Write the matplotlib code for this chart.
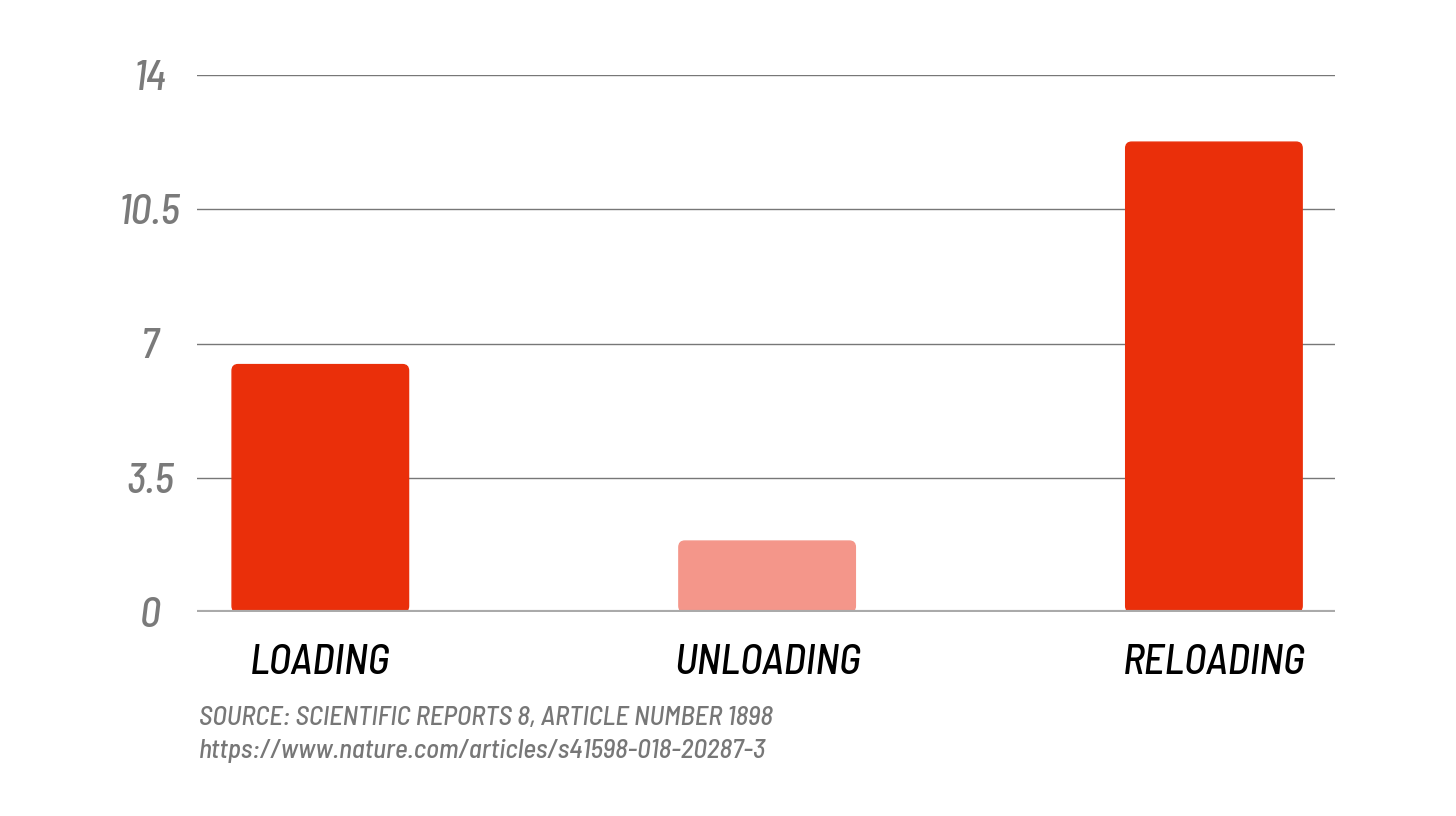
"""Bar chart: loading / unloading / reloading"""

import matplotlib.pyplot as plt
from matplotlib.patches import FancyBboxPatch

categories = ['LOADING', 'UNLOADING', 'RELOADING']
values = [6.45, 1.85, 12.25]
bar_colors = ['#ea2f0a', '#f4968a', '#ea2f0a']
yticks = [0, 3.5, 7, 10.5, 14]
ytick_labels = ['0', '3.5', '7', '10.5', '14']
source_lines = ['SOURCE: SCIENTIFIC REPORTS 8, ARTICLE NUMBER 1898',
                'https://www.nature.com/articles/s41598-018-20287-3']

cond = ['Barlow Semi Condensed', 'Barlow', 'DejaVu Sans']
plt.rcParams['font.family'] = cond

fig = plt.figure(figsize=(14.56, 8.16), dpi=100)
fig.set_facecolor('w')
ax = fig.add_axes([197 / 1456, 1 - 612 / 816, (1335 - 197) / 1456, (612 - 75) / 816])

xs = list(range(len(categories)))
bars = ax.bar(xs, values, width=0.395, color=bar_colors)
ax.set_xlim(-0.276, 2.271)
ax.set_ylim(0, 14)

# swap plain rectangles for rounded ones
rx, ry = 0.0135, 0.16
for b in bars:
    x, y = b.get_xy()
    w, h = b.get_width(), b.get_height()
    b.set_visible(False)
    p = FancyBboxPatch((x, y), w, h, boxstyle=f'round,pad=0,rounding_size={rx}',
                       mutation_aspect=ry / rx, fc=b.get_facecolor(),
                       ec=b.get_facecolor(), lw=1, zorder=3)
    ax.add_patch(p)

ax.set_yticks(yticks)
ax.set_yticklabels(ytick_labels)
ax.yaxis.grid(True, color='#777777', lw=1)
ax.set_axisbelow(True)
for s in ax.spines.values():
    s.set_visible(False)
ax.axhline(0, color='#aaaaaa', lw=3, zorder=4)
ax.tick_params(axis='y', length=0, pad=34, labelsize=30, labelcolor='#7a7a7a')
for t in ax.get_yticklabels():
    t.set_ha('center')
    t.set_style('italic')
    t.set_weight('medium')

ax.set_xticks(xs)
ax.set_xticklabels(categories)
ax.tick_params(axis='x', length=0, pad=23, labelsize=30, labelcolor='black')
for t in ax.get_xticklabels():
    t.set_style('italic')
    t.set_weight('medium')

for i, line in enumerate(source_lines):
    fig.text(199 / 1456, 1 - (718 + 33 * i) / 816, line, fontsize=19.5, color='#777777',
             style='italic', weight='medium', va='center')

fig.savefig('out.png', dpi=100)
